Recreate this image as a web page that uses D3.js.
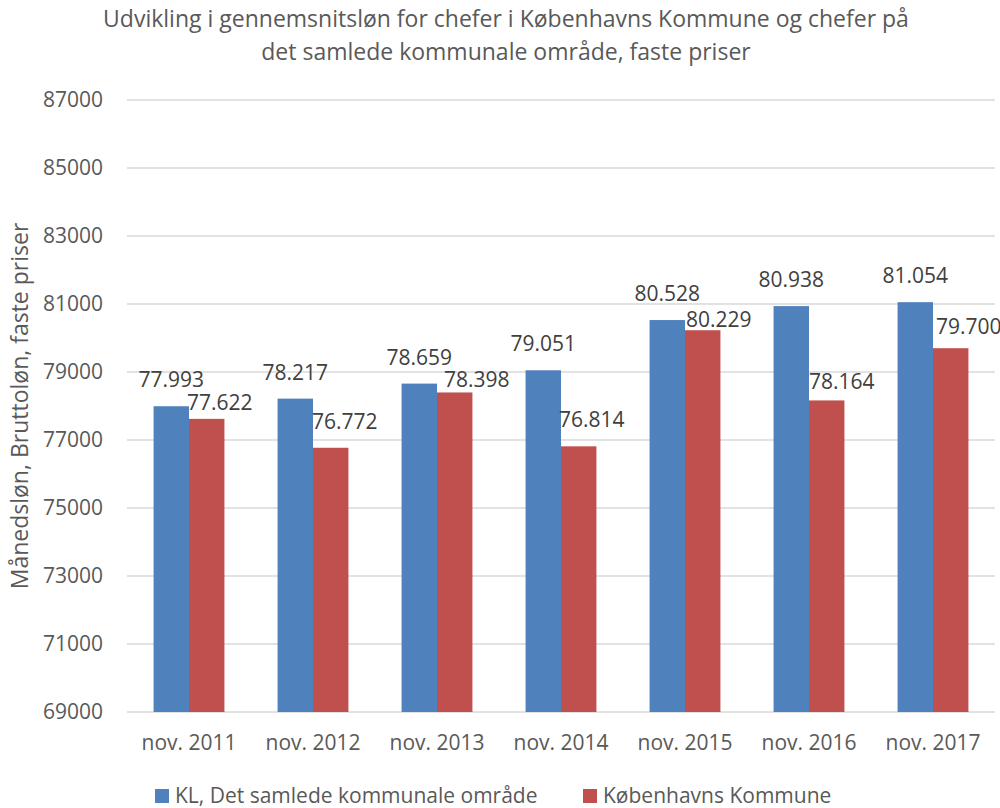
<!DOCTYPE html>
<html>
<head>
<meta charset="utf-8">
<script src="https://cdn.jsdelivr.net/npm/d3@7"></script>
<style>
  body { margin: 0; background: #fff; }
  text { font-family: "Open Sans", sans-serif; }
</style>
</head>
<body>
<div id="chart"></div>
<script>
const categories = ["nov. 2011", "nov. 2012", "nov. 2013", "nov. 2014", "nov. 2015", "nov. 2016", "nov. 2017"];
const seriesNames = ["KL, Det samlede kommunale område", "Københavns Kommune"];
const klValues = [77993, 78217, 78659, 79051, 80528, 80938, 81054];
const kkValues = [77622, 76772, 78398, 76814, 80229, 78164, 79700];
const yTicks = [69000, 71000, 73000, 75000, 77000, 79000, 81000, 83000, 85000, 87000];
const titleLines = ["Udvikling i gennemsnitsløn for chefer i Københavns Kommune og chefer på",
                    "det samlede kommunale område, faste priser"];
const yTitle = "Månedsløn, Bruttoløn, faste priser";

// labels for the red series were moved by hand in the original: [dx, dy above bar]
const kkLabelNudge = [[13, 9], [14, 19], [22, 5], [13, 19], [16, 3], [15, 11], [18, 14]];

const colors = ["#4F81BD", "#C0504D"];
const width = 1000;
const height = 808;
const margin = { top: 100, left: 127, bottom: 96, right: 5 };

const svg = d3.select("#chart")
              .append("svg")
              .attr("width", width)
              .attr("height", height);

const yScale = d3.scaleLinear()
                 .domain([69000, 87000])
                 .range([height - margin.bottom, margin.top]);

const x0 = d3.scaleBand()
             .domain(categories)
             .range([margin.left, width - margin.right]);

const x1 = d3.scaleBand()
             .domain([0, 1])
             .range([0, x0.bandwidth()])
             .paddingInner(0)
             .paddingOuter(0.75);

// gridlines
svg.append("g")
   .selectAll("line")
   .data(yTicks)
   .join("line")
   .attr("x1", margin.left)
   .attr("x2", width - margin.right)
   .attr("y1", d => yScale(d))
   .attr("y2", d => yScale(d))
   .attr("stroke", "#d9d9d9")
   .attr("stroke-width", 1.5);

// y tick labels
svg.append("g")
   .selectAll("text")
   .data(yTicks)
   .join("text")
   .attr("x", margin.left - 24)
   .attr("y", d => yScale(d))
   .attr("dy", "0.35em")
   .attr("text-anchor", "end")
   .attr("font-size", "21px")
   .attr("fill", "#595959")
   .text(d => d);

// x axis labels
const xAxisCall = d3.axisBottom(x0).tickSize(0).tickPadding(0);
const xAxis = svg.append("g")
                 .attr("transform", `translate(0, ${height - margin.bottom})`)
                 .call(xAxisCall);
xAxis.select(".domain").remove();
xAxis.selectAll("text")
     .attr("y", 38)
     .attr("dy", 0)
     .attr("font-size", "21px")
     .attr("font-family", "Open Sans, sans-serif")
     .attr("fill", "#595959");

const rows = categories.map((c, i) => ({ cat: c, vals: [klValues[i], kkValues[i]], i: i }));

const groups = svg.append("g")
                  .selectAll("g")
                  .data(rows)
                  .join("g")
                  .attr("transform", d => `translate(${x0(d.cat)}, 0)`);

groups.selectAll("rect")
      .data(d => d.vals.map((v, s) => ({ v: v, s: s })))
      .join("rect")
      .attr("x", d => x1(d.s))
      .attr("y", d => yScale(d.v))
      .attr("width", x1.bandwidth())
      .attr("height", d => yScale.range()[0] - yScale(d.v))
      .attr("fill", d => colors[d.s]);

const fmt = d3.format(",");
const fmtDk = v => fmt(v).replace(/,/g, ".");

groups.selectAll("text.lbl")
      .data(d => d.vals.map((v, s) => ({ v: v, s: s, i: d.i })))
      .join("text")
      .attr("class", "lbl")
      .attr("x", d => x1(d.s) + x1.bandwidth() / 2 + (d.s === 1 ? kkLabelNudge[d.i][0] : 0))
      .attr("y", d => yScale(d.v) - (d.s === 1 ? kkLabelNudge[d.i][1] : 19))
      .attr("text-anchor", "middle")
      .attr("font-size", "21px")
      .attr("fill", "#404040")
      .text(d => fmtDk(d.v));

// title
svg.append("g")
   .selectAll("text")
   .data(titleLines)
   .join("text")
   .attr("x", 506)
   .attr("y", (d, i) => 27 + i * 33)
   .attr("text-anchor", "middle")
   .attr("font-size", "23px")
   .attr("fill", "#595959")
   .text(d => d);

// y axis title
svg.append("text")
   .attr("transform", `translate(28, ${(yScale.range()[0] + yScale.range()[1]) / 2}) rotate(-90)`)
   .attr("text-anchor", "middle")
   .attr("font-size", "23px")
   .attr("fill", "#595959")
   .text(yTitle);

// legend
const legendX = [155, 583];
const legend = svg.append("g")
                  .selectAll("g")
                  .data(seriesNames)
                  .join("g")
                  .attr("transform", (d, i) => `translate(${legendX[i]}, 789)`);
legend.append("rect")
      .attr("width", 14)
      .attr("height", 14)
      .attr("fill", (d, i) => colors[i]);
legend.append("text")
      .attr("x", 20)
      .attr("y", 14)
      .attr("font-size", "21px")
      .attr("fill", "#595959")
      .text(d => d);
</script>
</body>
</html>
